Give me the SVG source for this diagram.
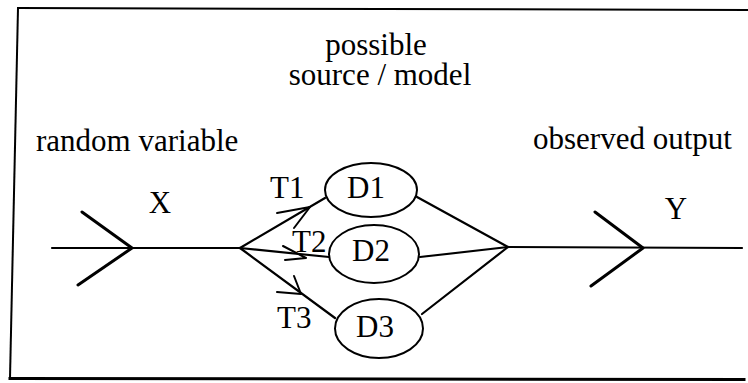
<svg xmlns="http://www.w3.org/2000/svg" width="748" height="383" viewBox="0 0 748 383">
  <style>
    text { font-family: "Liberation Serif", Tinos, "Times New Roman", "DejaVu Serif", serif; font-size: 31px; fill: #000; }
    .mid { text-anchor: middle; }
    .node ellipse { fill: #fff; stroke: #000; stroke-width: 2; }
    .wire { fill: none; stroke: #000; stroke-width: 2.2; stroke-linecap: round; stroke-linejoin: round; }
    .chev { fill: none; stroke: #000; stroke-width: 3; stroke-linecap: round; stroke-linejoin: round; }
    .tip { fill: none; stroke: #000; stroke-width: 2; stroke-linecap: round; stroke-linejoin: round; }
    .frame { fill: none; stroke: #000; stroke-linecap: square; }
  </style>

  <rect width="748" height="383" fill="#fff"/>

  <!-- outer frame (open on the right) -->
  <g id="frame">
    <path class="frame" stroke-width="2" d="M18,8 L748,10"/>
    <path class="frame" stroke-width="2" d="M18,8 L10,378"/>
    <path class="frame" stroke-width="3" d="M10,378.5 L744,379.5"/>
  </g>

  <!-- titles -->
  <g id="titles">
    <text class="mid" x="376" y="55">possible</text>
    <text class="mid" x="380" y="85">source / model</text>
    <text x="36" y="151">random variable</text>
    <text x="533" y="149">observed output</text>
    <text class="mid" x="160" y="213">X</text>
    <text class="mid" x="676" y="219">Y</text>
  </g>

  <!-- connectors -->
  <g id="connectors">
    <!-- input line and X chevron -->
    <path class="wire" d="M52,248 L240,248"/>
    <path class="chev" d="M82,212 L132,248 L78,285"/>
    <!-- branches into the models -->
    <path class="wire" d="M240,248 L325,198"/>
    <path class="wire" d="M240,248 L329,257"/>
    <path class="wire" d="M240,248 L335,318"/>
    <!-- branches out of the models -->
    <path class="wire" d="M417,197 L508,247"/>
    <path class="wire" d="M420,257 L508,247"/>
    <path class="wire" d="M422,314 L508,247"/>
    <!-- output line and Y chevron -->
    <path class="wire" d="M508,247 L742,248"/>
    <path class="chev" d="M595,212 L643,248 L591,286"/>
    <!-- branch arrowheads -->
    <path class="tip" d="M277,213 L310,207 L294,228"/>
    <path class="tip" d="M283,246 L306,258 L285,260"/>
    <path class="tip" d="M294,276 L301,294 L277,292"/>
  </g>

  <g id="branch-labels">
    <text x="270" y="198">T1</text>
    <text x="292" y="252">T2</text>
    <text x="277" y="328">T3</text>
  </g>

  <!-- model nodes -->
  <g id="D1" class="node">
    <ellipse cx="371" cy="190" rx="46" ry="27"/>
    <text class="mid" x="366" y="198">D1</text>
  </g>
  <g id="D2" class="node">
    <ellipse cx="374" cy="254" rx="45" ry="29"/>
    <text class="mid" x="371" y="261">D2</text>
  </g>
  <g id="D3" class="node">
    <ellipse cx="379" cy="328.5" rx="44" ry="29.5"/>
    <text class="mid" x="375" y="337">D3</text>
  </g>
</svg>
